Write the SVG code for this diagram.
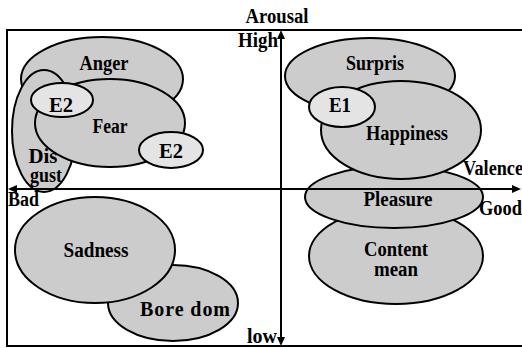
<svg xmlns="http://www.w3.org/2000/svg" width="522" height="348" viewBox="0 0 522 348">
<defs>
<style>
.e{fill:#cccccc;stroke:#000;stroke-width:2}
.s{fill:#e4e4e4;stroke:#000;stroke-width:2}
.ax{stroke:#000;stroke-width:2;fill:none}
</style>
</defs>
<rect x="0" y="0" width="522" height="348" fill="#fff"/>
<rect x="7" y="30" width="516" height="316" fill="none" stroke="#000" stroke-width="2"/>
<g id="anger"><ellipse class="e" cx="102" cy="79" rx="81" ry="42"/><text x="104" y="70" font-family="Liberation Serif" font-size="20" font-weight="bold" text-anchor="middle" textLength="49" lengthAdjust="spacingAndGlyphs">Anger</text></g>
<g id="disgust"><ellipse class="e" cx="44" cy="131" rx="32" ry="61"/></g>
<g id="fear"><ellipse class="e" cx="110" cy="123" rx="75" ry="44"/><text x="110" y="133" font-family="Liberation Serif" font-size="20" font-weight="bold" text-anchor="middle" textLength="35" lengthAdjust="spacingAndGlyphs">Fear</text></g>
<g id="disgust-label"><text x="43" y="163" font-family="Liberation Serif" font-size="20" font-weight="bold" text-anchor="middle" textLength="29" lengthAdjust="spacingAndGlyphs">Dis</text><text x="46" y="182" font-family="Liberation Serif" font-size="20" font-weight="bold" text-anchor="middle" textLength="32" lengthAdjust="spacingAndGlyphs">gust</text></g>
<g id="e2a"><ellipse class="s" cx="62" cy="100" rx="31" ry="17"/><text x="61" y="112" font-family="Liberation Serif" font-size="20" font-weight="bold" text-anchor="middle" textLength="24" lengthAdjust="spacingAndGlyphs">E2</text></g>
<g id="e2b"><ellipse class="s" cx="171" cy="150" rx="32" ry="18"/><text x="171" y="158" font-family="Liberation Serif" font-size="20" font-weight="bold" text-anchor="middle" textLength="24" lengthAdjust="spacingAndGlyphs">E2</text></g>
<g id="surpris"><ellipse class="e" cx="370" cy="76" rx="85" ry="38"/><text x="375" y="70" font-family="Liberation Serif" font-size="20" font-weight="bold" text-anchor="middle" textLength="58" lengthAdjust="spacingAndGlyphs">Surpris</text></g>
<g id="content"><ellipse class="e" cx="396" cy="256" rx="87" ry="48"/><text x="396" y="256" font-family="Liberation Serif" font-size="20" font-weight="bold" text-anchor="middle" textLength="64" lengthAdjust="spacingAndGlyphs">Content</text><text x="396" y="276" font-family="Liberation Serif" font-size="20" font-weight="bold" text-anchor="middle" textLength="44" lengthAdjust="spacingAndGlyphs">mean</text></g>
<g id="pleasure"><ellipse class="e" cx="394" cy="197" rx="89" ry="31"/><text x="398" y="206" font-family="Liberation Serif" font-size="20" font-weight="bold" text-anchor="middle" textLength="69" lengthAdjust="spacingAndGlyphs">Pleasure</text></g>
<g id="happiness"><ellipse class="e" cx="401" cy="130" rx="80" ry="49"/><text x="407" y="140" font-family="Liberation Serif" font-size="20" font-weight="bold" text-anchor="middle" textLength="82" lengthAdjust="spacingAndGlyphs">Happiness</text></g>
<g id="e1"><ellipse class="s" cx="342" cy="107" rx="33" ry="20"/><text x="340" y="112" font-family="Liberation Serif" font-size="20" font-weight="bold" text-anchor="middle" textLength="22" lengthAdjust="spacingAndGlyphs">E1</text></g>
<g id="boredom"><ellipse class="e" cx="173" cy="303" rx="65" ry="38"/><text x="185" y="316" font-family="Liberation Serif" font-size="20" font-weight="bold" text-anchor="middle" textLength="90" lengthAdjust="spacing">Bore dom</text></g>
<g id="sadness"><ellipse class="e" cx="95" cy="250" rx="80" ry="53"/><text x="96" y="257" font-family="Liberation Serif" font-size="20" font-weight="bold" text-anchor="middle" textLength="65" lengthAdjust="spacingAndGlyphs">Sadness</text></g>
<g id="connectors">
<line class="ax" x1="14" y1="189" x2="514" y2="189"/>
<polygon points="521,189 512,185 512,193" fill="#000"/>
<polygon points="8,189 17,185 17,193" fill="#000"/>
<line class="ax" x1="281" y1="38" x2="281" y2="338"/>
<polygon points="281,30 277,39 285,39" fill="#000"/>
<polygon points="281,346 277,337 285,337" fill="#000"/>
</g>
<g id="labels">
<text x="277" y="23" font-family="Liberation Serif" font-size="20" font-weight="bold" text-anchor="middle" textLength="63" lengthAdjust="spacingAndGlyphs">Arousal</text>
<text x="238" y="47" font-family="Liberation Serif" font-size="20" font-weight="bold" textLength="40" lengthAdjust="spacingAndGlyphs">High</text>
<text x="247" y="343" font-family="Liberation Serif" font-size="20" font-weight="bold" textLength="30" lengthAdjust="spacingAndGlyphs">low</text>
<text x="8" y="206" font-family="Liberation Serif" font-size="20" font-weight="bold" textLength="31" lengthAdjust="spacingAndGlyphs">Bad</text>
<text x="463" y="175" font-family="Liberation Serif" font-size="20" font-weight="bold" textLength="60" lengthAdjust="spacingAndGlyphs">Valence</text>
<text x="479" y="215" font-family="Liberation Serif" font-size="20" font-weight="bold" textLength="43" lengthAdjust="spacingAndGlyphs">Good</text>
</g>
</svg>
